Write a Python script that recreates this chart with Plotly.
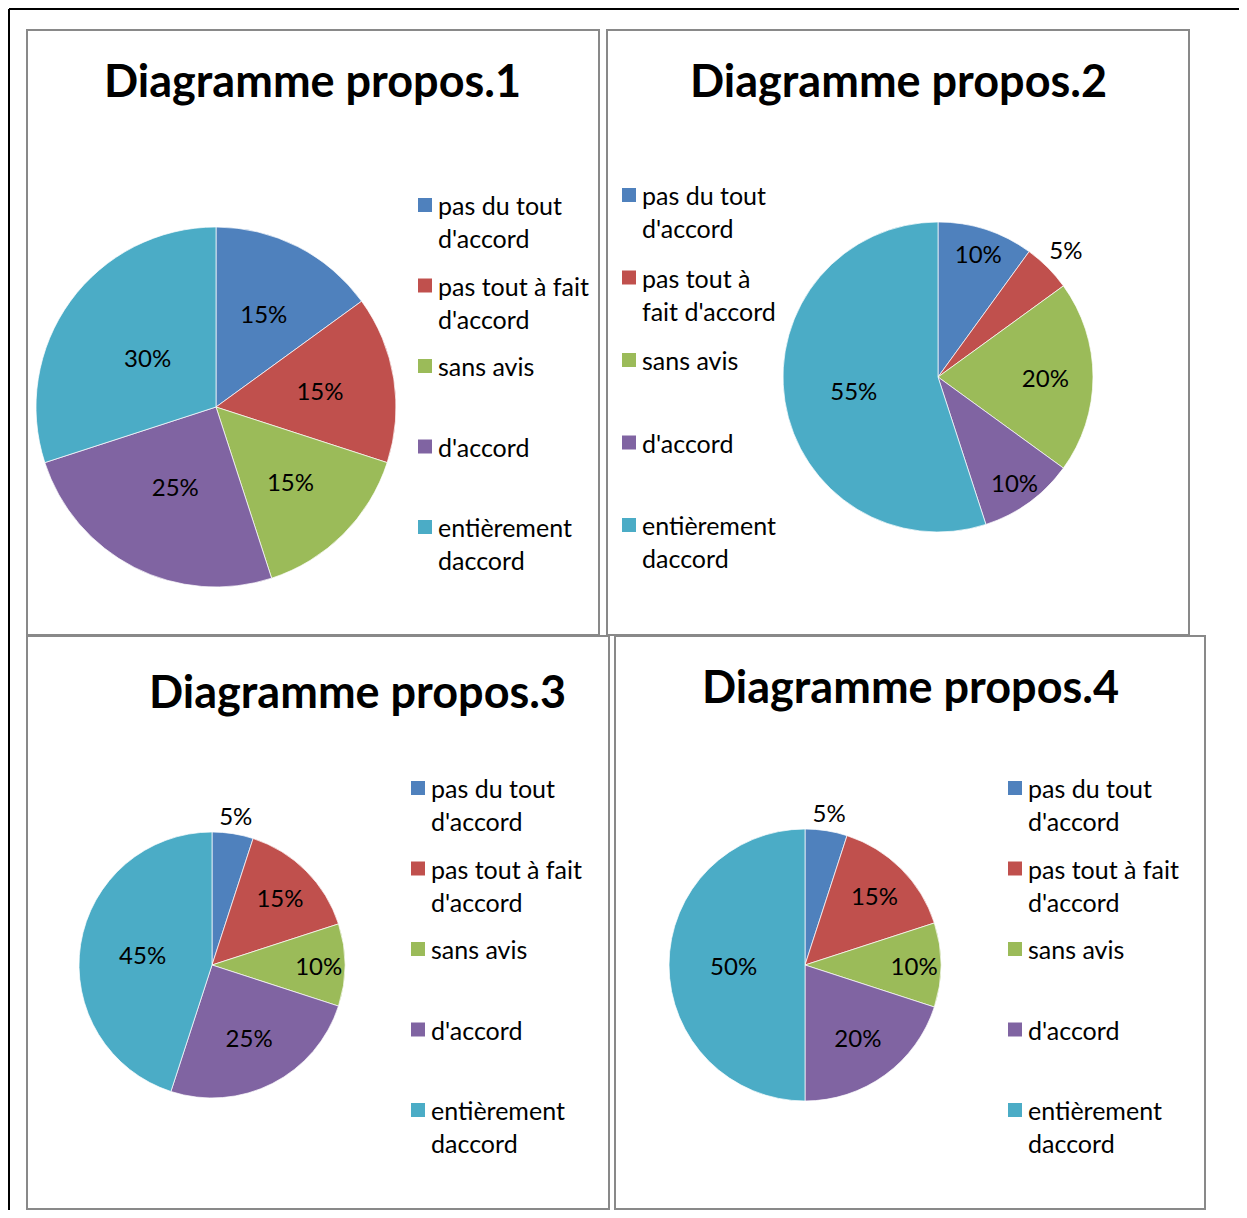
import plotly.graph_objects as go

W, H = 1247, 1218          # reference picture size
OFF = 8                    # the page body margin shifts the figure by 8px
FW, FH = W - 2 * OFF, H - 2 * OFF

# data (percent of answers)
CATEGORIES = [
    "pas du tout d'accord",
    "pas tout à fait d'accord",
    "sans avis",
    "d'accord",
    "entièrement daccord",
]
LEGEND_TEXT = [
    "pas du tout<br>d'accord",
    "pas tout à fait<br>d'accord",
    "sans avis",
    "d'accord",
    "entièrement<br>daccord",
]
LEGEND_TEXT_NARROW = [
    "pas du tout<br>d'accord",
    "pas tout à<br>fait d'accord",
    "sans avis",
    "d'accord",
    "entièrement<br>daccord",
]
TITLES = ["Diagramme propos.1", "Diagramme propos.2", "Diagramme propos.3", "Diagramme propos.4"]
PROPOS_1 = [15, 15, 15, 25, 30]
PROPOS_2 = [10, 5, 20, 10, 55]
PROPOS_3 = [5, 15, 10, 25, 45]
PROPOS_4 = [5, 15, 10, 20, 50]

COLORS = ["#4F81BD", "#C0504D", "#9BBB59", "#8064A2", "#4BACC6"]
FONT = "Lato, 'Open Sans', sans-serif"


def px(x):
    return (x - OFF) / FW


def py(y):
    return 1 - (y - OFF) / FH


# panel layout in pixels: border box, pie centre/radius, title centre, legend,
# radius factors of the invisible rings that carry the inside / outer labels
panels = [
    dict(values=PROPOS_1, legend=LEGEND_TEXT, box=(27, 30, 599, 635),
         pie=(216, 407, 180), title=(312, 80), leg=(418, 205, 80.5), lab=(0.85, 1.33)),
    dict(values=PROPOS_2, legend=LEGEND_TEXT_NARROW, box=(607, 30, 1189, 635),
         pie=(938, 377, 155), title=(898, 80), leg=(622, 195, 82.5), lab=(1.1, 1.35)),
    dict(values=PROPOS_3, legend=LEGEND_TEXT, box=(27, 636, 609, 1209),
         pie=(212, 965, 133), title=(357, 691), leg=(411, 788, 80.5), lab=(1.05, 1.32)),
    dict(values=PROPOS_4, legend=LEGEND_TEXT, box=(615, 636, 1205, 1209),
         pie=(805, 965, 136), title=(910, 686), leg=(1008, 788, 80.5), lab=(1.05, 1.31)),
]

fig = go.Figure()
shapes = []
annotations = []


def label_ring(values, cx, cy, rl, show):
    # transparent twin pie: only its percentage labels are visible
    fig.add_trace(go.Pie(
        labels=CATEGORIES,
        values=values,
        sort=False,
        direction="clockwise",
        rotation=0,
        marker=dict(colors=["rgba(0,0,0,0)"] * len(COLORS), line=dict(width=0)),
        texttemplate=["%{percent:.0%}" if s else "" for s in show],
        textposition="inside",
        insidetextorientation="horizontal",
        textfont=dict(family=FONT, size=24, color="black"),
        domain=dict(x=[px(cx - rl), px(cx + rl)], y=[py(cy + rl), py(cy - rl)]),
        showlegend=False,
        hoverinfo="skip",
    ))


# outer frame (page border)
shapes.append(dict(type="line", xref="paper", yref="paper", x0=px(9), x1=1, y0=py(9), y1=py(9),
                   line=dict(color="black", width=2)))
shapes.append(dict(type="line", xref="paper", yref="paper", x0=px(9), x1=px(9), y0=py(9), y1=0,
                   line=dict(color="black", width=2)))

for i, p in enumerate(panels):
    x0, y0, x1, y1 = p["box"]
    shapes.append(dict(type="rect", xref="paper", yref="paper",
                       x0=px(x0), x1=px(x1), y0=py(y1), y1=py(y0),
                       line=dict(color="#898989", width=2), fillcolor="rgba(0,0,0,0)"))

    cx, cy, r = p["pie"]
    fig.add_trace(go.Pie(
        labels=CATEGORIES,
        values=p["values"],
        sort=False,
        direction="clockwise",
        rotation=0,
        marker=dict(colors=COLORS, line=dict(color="rgba(255,255,255,0.7)", width=1)),
        textinfo="none",
        domain=dict(x=[px(cx - r), px(cx + r)], y=[py(cy + r), py(cy - r)]),
        showlegend=False,
        hoverinfo="label+percent",
    ))
    small = [v <= 5 for v in p["values"]]
    k_in, k_out = p["lab"]
    label_ring(p["values"], cx, cy, r * k_in, [not s for s in small])
    if any(small):
        label_ring(p["values"], cx, cy, r * k_out, small)

    tx, ty = p["title"]
    annotations.append(dict(text="<b>" + TITLES[i] + "</b>", x=px(tx), y=py(ty),
                            xref="paper", yref="paper", xanchor="center", yanchor="middle",
                            showarrow=False, font=dict(family=FONT, size=45, color="black")))

    lx, ly, step = p["leg"]
    for k, label in enumerate(p["legend"]):
        yk = ly + k * step
        shapes.append(dict(type="rect", xref="paper", yref="paper",
                           x0=px(lx), x1=px(lx + 14), y0=py(yk + 7), y1=py(yk - 7),
                           line=dict(width=0), fillcolor=COLORS[k]))
        annotations.append(dict(text=label, x=px(lx + 18), y=py(yk - 17),
                                xref="paper", yref="paper", xanchor="left", yanchor="top",
                                align="left", showarrow=False,
                                font=dict(family=FONT, size=25, color="black")))

fig.update_layout(
    width=FW, height=FH,
    margin=dict(l=0, r=0, t=0, b=0),
    paper_bgcolor="white",
    plot_bgcolor="white",
    showlegend=False,
    shapes=shapes,
    annotations=annotations,
)

fig.write_html("out.html")
